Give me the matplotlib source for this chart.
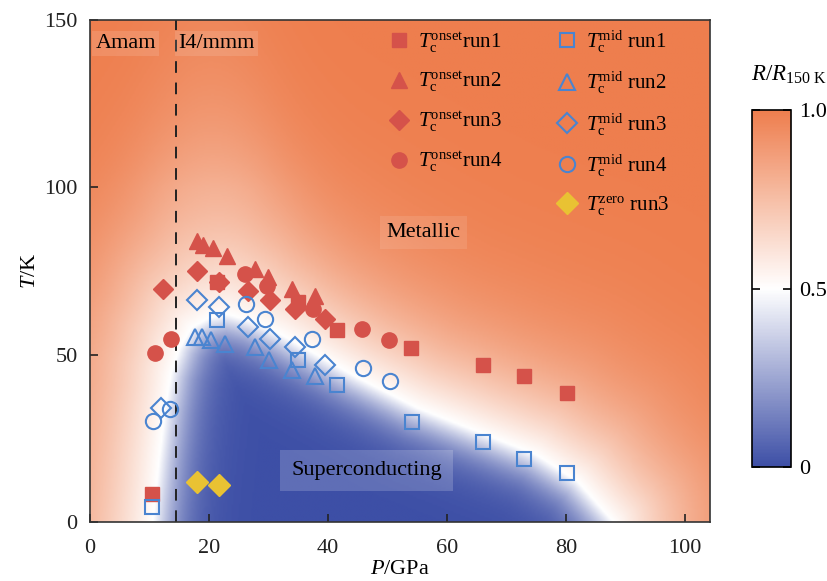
import numpy as np
import matplotlib
matplotlib.use("Agg")
import matplotlib.pyplot as plt
from matplotlib.colors import LinearSegmentedColormap
from matplotlib.lines import Line2D

plt.rcParams['font.family'] = ['Liberation Serif', 'DejaVu Serif']
plt.rcParams['mathtext.fontset'] = 'custom'
plt.rcParams['mathtext.rm'] = 'Liberation Serif'
plt.rcParams['mathtext.it'] = 'Liberation Serif:italic'

# ---------------- data ----------------
onset1_P = [10.5, 21.4, 35.0, 41.5, 54.0, 66.1, 73.0, 80.2]
onset1_T = [8.3, 71.6, 65.7, 57.3, 51.9, 47.0, 43.5, 38.4]
onset2_P = [17.9, 19.0, 20.7, 23.0, 27.7, 29.9, 33.9, 37.8]
onset2_T = [83.9, 82.9, 81.9, 79.4, 75.5, 73.1, 69.6, 67.6]
onset3_P = [12.3, 17.9, 21.6, 26.6, 30.3, 34.5, 39.5]
onset3_T = [69.6, 75.0, 71.6, 68.9, 66.2, 63.7, 60.7]
onset4_P = [10.9, 13.6, 26.0, 29.7, 37.5, 45.7, 50.3]
onset4_T = [50.4, 54.8, 74.1, 70.6, 63.7, 57.6, 54.4]

mid1_P = [10.5, 21.3, 35.0, 41.5, 54.2, 66.1, 73.0, 80.2]
mid1_T = [4.5, 60.3, 48.5, 41.0, 30.0, 23.8, 18.8, 14.6]
mid2_P = [17.6, 18.8, 20.4, 22.7, 27.7, 30.0, 33.9, 37.8]
mid2_T = [55.3, 55.3, 54.3, 53.3, 52.4, 48.4, 45.5, 43.5]
mid3_P = [12.0, 17.9, 21.6, 26.6, 30.3, 34.5, 39.5]
mid3_T = [34.1, 66.2, 64.2, 58.3, 54.8, 52.4, 47.0]
mid4_P = [10.6, 13.4, 26.2, 29.4, 37.3, 45.8, 50.4]
mid4_T = [30.2, 33.8, 65.2, 60.7, 54.8, 46.0, 42.0]

zero3_P = [17.9, 21.6]
zero3_T = [11.9, 11.1]

# boundary of superconducting region (R/R150K = 0.5 contour)
bound_P = [10.5, 11.5, 12.5, 13.5, 15.0, 17.0, 20.0, 23.0, 27.0, 32.0, 38.0, 45.0, 55.0, 65.0, 75.0, 82.0, 86.0, 88.0]
bound_T = [0.0, 18.0, 33.0, 44.0, 52.0, 58.0, 61.0, 62.0, 60.0, 56.0, 50.0, 43.0, 34.0, 27.0, 20.0, 12.0, 4.0, 0.0]

phase_P = 14.5

# ---------------- figure ----------------
W, H = 828, 581
fig = plt.figure(figsize=(W / 100, H / 100), dpi=100)
ax = fig.add_axes([90 / W, 1 - 522 / H, (710 - 90) / W, (522 - 20) / H])

xlim = (0, 104.2)
ylim = (1.5, 150)

cmap = LinearSegmentedColormap.from_list(
    'rb', [(0.0, '#3D4FA6'), (0.5, '#FFFFFF'), (1.0, '#EE7E4E')])

# build background field from the boundary
sx, sy = 5.95, 3.38  # px per unit
Pg = np.linspace(xlim[0], xlim[1], 420)
Tg = np.linspace(0, 150, 320)
PP, TT = np.meshgrid(Pg, Tg)
bx = np.array(bound_P) * sx
by = np.array(bound_T) * sy
X = PP * sx
Y = TT * sy
dmin = np.full(PP.shape, np.inf)
for i in range(len(bx) - 1):
    x0, y0, x1, y1 = bx[i], by[i], bx[i + 1], by[i + 1]
    dx, dy = x1 - x0, y1 - y0
    t = ((X - x0) * dx + (Y - y0) * dy) / (dx * dx + dy * dy)
    t = np.clip(t, 0, 1)
    d = np.hypot(X - (x0 + t * dx), Y - (y0 + t * dy))
    dmin = np.minimum(dmin, d)
tb = np.interp(PP, bound_P, bound_T, left=0, right=0)
inside = TT < tb
w_out = 105 + 80 * np.exp(-((PP - 20) / 14) ** 2) * np.clip((TT - 40) / 60, 0, 1)
val = np.where(inside, 0.5 - 0.5 * np.tanh(dmin / 35.0),
               0.5 + 0.5 * np.tanh(dmin / w_out))
im = ax.imshow(val, origin='lower', extent=[xlim[0], xlim[1], 0, 150],
               aspect='auto', cmap=cmap, vmin=0, vmax=1, interpolation='bilinear', zorder=0)

ax.axvline(phase_P, color='#222222', lw=1.4, dashes=(6, 5), zorder=1)

red = '#D5524A'
blue = '#4A84D0'
yel = '#E9C233'
ax.plot(onset1_P, onset1_T, 's', ms=10, color=red, mec=red, ls='none', zorder=3)
ax.plot(onset2_P, onset2_T, '^', ms=12, color=red, mec=red, ls='none', zorder=3)
ax.plot(onset3_P, onset3_T, 'D', ms=10, color=red, mec=red, ls='none', zorder=3)
ax.plot(onset4_P, onset4_T, 'o', ms=11, color=red, mec=red, ls='none', zorder=3)
ax.plot(mid1_P, mid1_T, 's', ms=10, mfc='none', mec=blue, mew=1.5, ls='none', zorder=3)
ax.plot(mid2_P, mid2_T, '^', ms=12, mfc='none', mec=blue, mew=1.5, ls='none', zorder=3)
ax.plot(mid3_P, mid3_T, 'D', ms=10, mfc='none', mec=blue, mew=1.5, ls='none', zorder=3)
ax.plot(mid4_P, mid4_T, 'o', ms=11, mfc='none', mec=blue, mew=1.5, ls='none', zorder=3)
ax.plot(zero3_P, zero3_T, 'D', ms=11, color=yel, mec=yel, ls='none', zorder=3)

ax.set_xlim(*xlim)
ax.set_ylim(*ylim)
ax.set_xticks([0, 20, 40, 60, 80, 100])
ax.set_yticks([0, 50, 100, 150])
ax.tick_params(direction='in', length=6, width=1.2, labelsize=16, colors='#222222')
ax.tick_params(axis='x', pad=12)
ax.tick_params(axis='y', pad=9)
for s in ax.spines.values():
    s.set_linewidth(1.2)
    s.set_color('#333333')
ax.set_xlabel(r'$P$/GPa', fontsize=16, labelpad=2)
ax.set_ylabel(r'$T$/K', fontsize=16, labelpad=3)

bbox_txt = dict(boxstyle='square,pad=0.15', fc='white', ec='none', alpha=0.12)
ax.text(0.9, 143, 'Amam', fontsize=16, va='center', ha='left', bbox=bbox_txt)
ax.text(14.8, 143, 'I4/mmm', fontsize=16, va='center', ha='left', bbox=bbox_txt)
ax.text(56, 86.5, 'Metallic', fontsize=16, va='center', ha='center',
        bbox=dict(boxstyle='square,pad=0.3', fc='white', ec='none', alpha=0.1))
ax.text(46.5, 15.5, 'Superconducting', fontsize=16, va='center', ha='center',
        bbox=dict(boxstyle='square,pad=0.5', fc='white', ec='none', alpha=0.18))

# legend
handles = [
    Line2D([], [], marker='s', ms=10, color=red, ls='none'),
    Line2D([], [], marker='^', ms=12, color=red, ls='none'),
    Line2D([], [], marker='D', ms=10, color=red, ls='none'),
    Line2D([], [], marker='o', ms=11, color=red, ls='none'),
    Line2D([], [], marker='none', ls='none'),
    Line2D([], [], marker='s', ms=10, mfc='none', mec=blue, mew=1.5, ls='none'),
    Line2D([], [], marker='^', ms=12, mfc='none', mec=blue, mew=1.5, ls='none'),
    Line2D([], [], marker='D', ms=10, mfc='none', mec=blue, mew=1.5, ls='none'),
    Line2D([], [], marker='o', ms=11, mfc='none', mec=blue, mew=1.5, ls='none'),
    Line2D([], [], marker='D', ms=11, color=yel, ls='none'),
]
labels = [
    r'$T_{\rm c}^{\rm onset}$run1', r'$T_{\rm c}^{\rm onset}$run2',
    r'$T_{\rm c}^{\rm onset}$run3', r'$T_{\rm c}^{\rm onset}$run4', '',
    r'$T_{\rm c}^{\rm mid}$ run1', r'$T_{\rm c}^{\rm mid}$ run2',
    r'$T_{\rm c}^{\rm mid}$ run3', r'$T_{\rm c}^{\rm mid}$ run4',
    r'$T_{\rm c}^{\rm zero}$ run3',
]
leg = ax.legend(handles, labels, ncol=2, loc='upper left', bbox_to_anchor=(0.462, 1.008),
                frameon=False, fontsize=15, handlelength=1.0, handletextpad=0.4,
                labelspacing=0.73, columnspacing=2.6, borderaxespad=0.2)

# colorbar
cax = fig.add_axes([752 / W, 1 - 467 / H, (791 - 752) / W, (467 - 110) / H])
cb = fig.colorbar(im, cax=cax, ticks=[0, 0.5, 1.0])
cb.ax.set_yticklabels(['0', '0.5', '1.0'])
cb.ax.tick_params(direction='in', length=6, width=1.2, labelsize=16, left=True, right=True, pad=6)
cb.outline.set_linewidth(1.2)
fig.text(789 / W, 1 - 75 / H, r'$R$/$R_{\rm 150\ K}$', fontsize=16.5, ha='center', va='center')

fig.savefig('out.png', dpi=100)
